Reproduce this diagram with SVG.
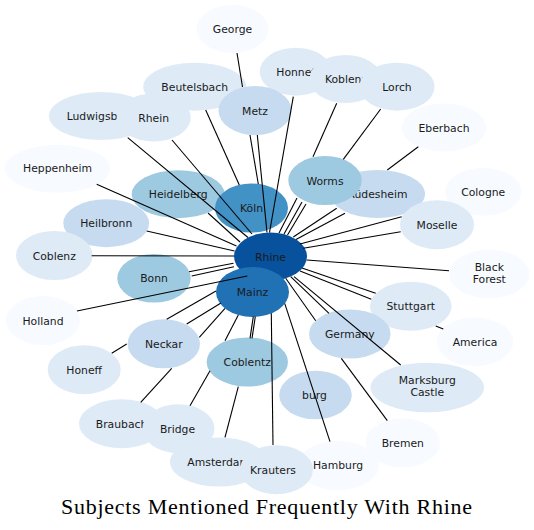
<svg xmlns="http://www.w3.org/2000/svg" width="534" height="530" viewBox="0 0 534 530">
<style>
.c0{fill:#f7fbff}.c1{fill:#deebf7}.c2{fill:#c6dbef}.c3{fill:#9ecae1}.c5{fill:#4292c6}.c6{fill:#2171b5}.c7{fill:#08519c}
text{font-family:"DejaVu Sans","Liberation Sans",sans-serif;font-size:10.8px;fill:#1a1a1a;text-anchor:middle}
#edges line{stroke:#000;stroke-width:1.1}
.title{font-family:"Liberation Serif","DejaVu Serif",serif;font-size:22px;fill:#000;text-anchor:start}
</style>
<rect width="534" height="530" fill="#fff"/>
<g id="nodes">
<g id="n-george"><ellipse class="c0" cx="232.5" cy="29" rx="36" ry="24"/><text x="232.5" y="33">George</text></g>
<g id="n-beutelsbach"><ellipse class="c1" cx="194.7" cy="86.7" rx="51.5" ry="24"/><text x="194.7" y="90.7">Beutelsbach</text></g>
<g id="n-ludwigsburg"><ellipse class="c1" cx="101" cy="116" rx="52" ry="24"/><text x="101" y="120">Ludwigsburg</text></g>
<g id="n-rhein"><ellipse class="c1" cx="153.7" cy="117.5" rx="37" ry="24"/><text x="153.7" y="121.5">Rhein</text></g>
<g id="n-honnef"><ellipse class="c1" cx="295.7" cy="71.7" rx="36" ry="24"/><text x="295.7" y="75.7">Honnef</text></g>
<g id="n-koblenz"><ellipse class="c1" cx="345.5" cy="79" rx="36" ry="24"/><text x="346" y="83">Koblenz</text></g>
<g id="n-lorch"><ellipse class="c1" cx="397" cy="86.7" rx="37.5" ry="24"/><text x="397" y="90.7">Lorch</text></g>
<g id="n-metz"><ellipse class="c2" cx="255" cy="110.5" rx="36.5" ry="24.5"/><text x="255" y="114.5">Metz</text></g>
<g id="n-eberbach"><ellipse class="c0" cx="444" cy="127.5" rx="42.3" ry="24"/><text x="444" y="131.5">Eberbach</text></g>
<g id="n-heppenheim"><ellipse class="c0" cx="57.5" cy="168.8" rx="52.5" ry="24"/><text x="57.5" y="172.3">Heppenheim</text></g>
<g id="n-cologne"><ellipse class="c0" cx="483.2" cy="191.8" rx="38.2" ry="24"/><text x="483.2" y="195.8">Cologne</text></g>
<g id="n-heidelberg"><ellipse class="c3" cx="178.2" cy="194.2" rx="46.5" ry="24"/><text x="178.2" y="198.2">Heidelberg</text></g>
<g id="n-heilbronn"><ellipse class="c2" cx="106.2" cy="223.2" rx="42.9" ry="24"/><text x="106.2" y="227.2">Heilbronn</text></g>
<g id="n-coblenz"><ellipse class="c1" cx="54.3" cy="255.5" rx="38.3" ry="24.5"/><text x="54.3" y="259.5">Coblenz</text></g>
<g id="n-koeln"><ellipse class="c5" cx="251.5" cy="208" rx="36.5" ry="24.5"/><text x="251.5" y="212">Köln</text></g>
<g id="n-ruedesheim"><ellipse class="c2" cx="377.5" cy="194" rx="47.5" ry="24"/><text x="377.5" y="198">Rüdesheim</text></g>
<g id="n-worms"><ellipse class="c3" cx="325" cy="180.5" rx="36.7" ry="24.5"/><text x="325" y="184.5">Worms</text></g>
<g id="n-moselle"><ellipse class="c1" cx="437" cy="224.7" rx="37" ry="24.5"/><text x="437" y="228.7">Moselle</text></g>
<g id="n-rhine"><ellipse class="c7" cx="270.5" cy="256.5" rx="36.5" ry="24"/><text x="270.5" y="260.5">Rhine</text></g>
<g id="n-mainz"><ellipse class="c6" cx="252.5" cy="292" rx="36.5" ry="25"/><text x="252.5" y="296">Mainz</text></g>
<g id="n-bonn"><ellipse class="c3" cx="154" cy="278.3" rx="36.7" ry="24.3"/><text x="154" y="282.3">Bonn</text></g>
<g id="n-blackforest"><ellipse class="c0" cx="489.3" cy="274" rx="40.3" ry="24.3"/><text x="489.3" y="270.5">Black<tspan x="489.3" dy="12.3">Forest</tspan></text></g>
<g id="n-holland"><ellipse class="c0" cx="43" cy="320.5" rx="37" ry="24.5"/><text x="43" y="324.5">Holland</text></g>
<g id="n-stuttgart"><ellipse class="c1" cx="410.8" cy="306.2" rx="40.8" ry="24.5"/><text x="410.8" y="309.5">Stuttgart</text></g>
<g id="n-neckar"><ellipse class="c2" cx="163.8" cy="343.8" rx="36.2" ry="24.5"/><text x="163.8" y="347.5">Neckar</text></g>
<g id="n-germany"><ellipse class="c2" cx="349.8" cy="334" rx="40.8" ry="24.5"/><text x="349.8" y="337.5">Germany</text></g>
<g id="n-america"><ellipse class="c0" cx="475" cy="341.7" rx="38.3" ry="24.3"/><text x="475" y="345.5">America</text></g>
<g id="n-coblentz"><ellipse class="c3" cx="247.3" cy="362" rx="40.7" ry="24.5"/><text x="247.3" y="366">Coblentz</text></g>
<g id="n-honeff"><ellipse class="c1" cx="84.2" cy="369.7" rx="36.5" ry="24.5"/><text x="84.2" y="373.5">Honeff</text></g>
<g id="n-marksburg"><ellipse class="c1" cx="427.3" cy="387.5" rx="56.7" ry="24.8"/><text x="427.3" y="384">Marksburg<tspan x="427.3" dy="12">Castle</tspan></text></g>
<g id="n-burg"><ellipse class="c2" cx="315.5" cy="395" rx="36.3" ry="24.3"/><text x="314.5" y="398.5">burg</text></g>
<g id="n-braubach"><ellipse class="c1" cx="121.5" cy="423.7" rx="42.5" ry="24.5"/><text x="121.5" y="427.5">Braubach</text></g>
<g id="n-bridge"><ellipse class="c1" cx="178.5" cy="428.7" rx="36" ry="24.5"/><text x="177.5" y="432.5">Bridge</text></g>
<g id="n-bremen"><ellipse class="c0" cx="402.8" cy="442.8" rx="37.2" ry="24.5"/><text x="402.8" y="446.5">Bremen</text></g>
<g id="n-amsterdam"><ellipse class="c1" cx="218.7" cy="462" rx="48.7" ry="24.5"/><text x="218.7" y="466">Amsterdam</text></g>
<g id="n-hamburg"><ellipse class="c0" cx="338" cy="465.5" rx="41" ry="24.5"/><text x="338" y="469">Hamburg</text></g>
<g id="n-krauters"><ellipse class="c1" cx="276.5" cy="469.7" rx="36.5" ry="24.5"/><text x="273" y="473.5">Krauters</text></g>
</g>
<g id="edges">
<line x1="237" y1="53" x2="242.5" y2="87"/>
<line x1="205.7" y1="110" x2="239.3" y2="185"/>
<line x1="250" y1="135" x2="258.3" y2="184"/>
<line x1="257.3" y1="135" x2="267" y2="232.5"/>
<line x1="293.3" y1="96.7" x2="269.5" y2="232.5"/>
<line x1="336.7" y1="103.3" x2="313" y2="156.7"/>
<line x1="380.7" y1="109" x2="343.3" y2="159.3"/>
<line x1="418.3" y1="146.7" x2="387.3" y2="170"/>
<line x1="127.7" y1="137.7" x2="248" y2="237.5"/>
<line x1="172" y1="140" x2="252" y2="234"/>
<line x1="96.7" y1="184.3" x2="236.5" y2="246"/>
<line x1="208" y1="213" x2="240" y2="242"/>
<line x1="146.7" y1="231" x2="234.5" y2="251"/>
<line x1="91.7" y1="255.7" x2="234" y2="256"/>
<line x1="297" y1="198" x2="279" y2="233"/>
<line x1="302" y1="202" x2="284" y2="234"/>
<line x1="306" y1="204" x2="287.5" y2="235"/>
<line x1="336.7" y1="208.3" x2="293.3" y2="237"/>
<line x1="345" y1="213.3" x2="296" y2="239.5"/>
<line x1="401.7" y1="216.7" x2="300" y2="244"/>
<line x1="400.7" y1="231.7" x2="303.3" y2="248.3"/>
<line x1="449" y1="270.7" x2="306.7" y2="260"/>
<line x1="375.7" y1="293.3" x2="302" y2="268"/>
<line x1="371.3" y1="299.3" x2="300" y2="271"/>
<line x1="435.7" y1="326" x2="443.3" y2="329"/>
<line x1="285.7" y1="278.3" x2="315.7" y2="320.7"/>
<line x1="290.7" y1="276.7" x2="329" y2="313.3"/>
<line x1="294" y1="276.7" x2="400.7" y2="365"/>
<line x1="341.3" y1="358.3" x2="387.3" y2="420.7"/>
<line x1="284.7" y1="303.3" x2="330" y2="441.7"/>
<line x1="271.3" y1="313.3" x2="273" y2="445"/>
<line x1="253.3" y1="316.7" x2="250" y2="338.3"/>
<line x1="255.3" y1="316.7" x2="252" y2="338.3"/>
<line x1="238.3" y1="315" x2="225" y2="340.7"/>
<line x1="210" y1="370.7" x2="190" y2="405.7"/>
<line x1="238.3" y1="386.7" x2="225" y2="437.3"/>
<line x1="189" y1="271.7" x2="233.5" y2="263.3"/>
<line x1="191.7" y1="276" x2="234" y2="266.7"/>
<line x1="77" y1="311" x2="247.3" y2="276"/>
<line x1="166.7" y1="319.3" x2="216" y2="291"/>
<line x1="186.7" y1="324" x2="221" y2="303"/>
<line x1="199.3" y1="337.3" x2="225" y2="308.3"/>
<line x1="126.7" y1="344" x2="111.7" y2="353.3"/>
<line x1="171.7" y1="368.3" x2="140.7" y2="402.3"/>
</g>
<text class="title" x="61" y="514" textLength="411" lengthAdjust="spacing">Subjects Mentioned Frequently With Rhine</text>
</svg>
